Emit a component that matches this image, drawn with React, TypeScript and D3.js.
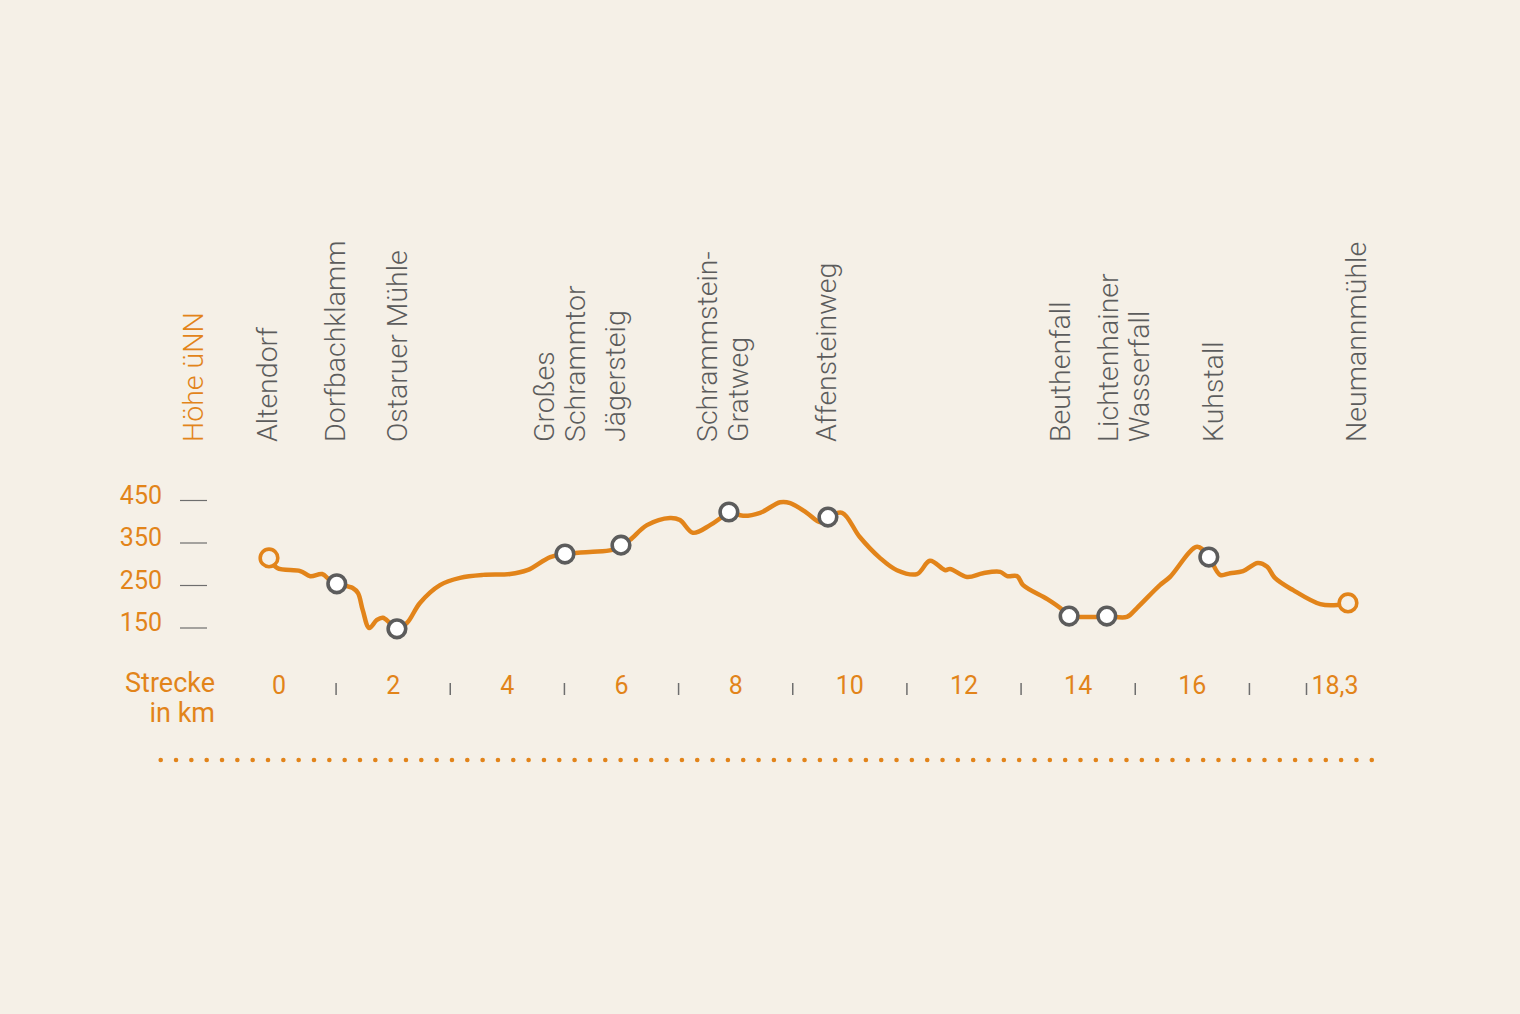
import React from "react";
import * as d3 from "d3";

// ---------- data ----------
const waypointNames: string[][] = [
  ["Altendorf"],
  ["Dorfbachklamm"],
  ["Ostaruer Mühle"],
  ["Großes", "Schrammtor"],
  ["Jägersteig"],
  ["Schrammstein-", "Gratweg"],
  ["Affensteinweg"],
  ["Beuthenfall"],
  ["Lichtenhainer", "Wasserfall"],
  ["Kuhstall"],
  ["Neumannmühle"],
];
const waypointKm = [0, 1.15, 2.17, 5.02, 5.97, 7.8, 9.48, 13.57, 14.21, 15.94, 18.3];
const waypointElev = [315, 254, 148, 324, 345, 423, 411, 178, 178, 317, 209];

const profileKm = [
  0, 0.14, 0.53, 0.7, 0.9, 1.03, 1.15, 1.42, 1.51, 1.59, 1.7, 1.83, 1.93, 2.05, 2.17,
  2.34, 2.56, 2.9, 3.24, 3.63, 4.09, 4.38, 4.77, 5.02, 5.44, 5.82, 5.97, 6.12, 6.41,
  6.8, 6.97, 7.19, 7.48, 7.68, 7.8, 8.04, 8.33, 8.67, 8.84, 9.12, 9.35, 9.48, 9.72,
  10.02, 10.36, 10.65, 10.99, 11.21, 11.47, 11.55, 11.84, 12.11, 12.4, 12.52, 12.69,
  12.79, 13.2, 13.42, 13.57, 13.81, 14.04, 14.21, 14.55, 14.72, 15.11, 15.28, 15.74,
  15.94, 16.13, 16.3, 16.52, 16.77, 16.93, 17.06, 17.37, 17.83, 18.12, 18.3,
];
const profileElev = [
  315, 291, 284, 272, 277, 263, 254, 244, 232, 192, 150, 169, 174, 162, 148,
  162, 209, 251, 268, 275, 277, 286, 317, 324, 329, 334, 345, 357, 392,
  409, 404, 374, 392, 411, 423, 414, 421, 446, 444, 421, 399, 411, 421,
  364, 315, 286, 277, 308, 286, 289, 270, 279, 282, 272, 272,
  251, 218, 197, 178, 176, 176, 178, 176, 197, 251, 270, 341,
  317, 275, 279, 284, 303, 294, 268, 239, 206, 204, 209,
];

const elevTicks = [150, 250, 350, 450];
const kmLabels = [0, 2, 4, 6, 8, 10, 12, 14, 16];
const kmMinorTicks = [1, 3, 5, 7, 9, 11, 13, 15, 17, 18];
const endLabel = "18,3";
const yTitle = "Höhe üNN";
const xTitle = ["Strecke", "in km"];

// ---------- style ----------
const BG = "#f5f0e7";
const ORANGE = "#e2841a";
const GRAY = "#5c5c5c";
const TICKGRAY = "#6e6e6e";
const FONT = "Roboto, 'Open Sans', sans-serif";

// per-label horizontal nudge (layout)
const labelNudge = [8, 8, 10, 20, 4, 19, 8, 1, 42, 14, 18];

export default function App() {
  const W = 1520;
  const H = 1014;

  const x = d3.scaleLinear().domain([0, 18.3]).range([269, 1348]);
  const xAxis = d3.scaleLinear().domain([0, 18]).range([279, 1306.5]);
  const y = d3.scaleLinear().domain([150, 450]).range([628, 500.5]);

  const pts: [number, number][] = profileKm.map((k, i) => [k, profileElev[i]]);
  const line = d3
    .line<[number, number]>()
    .x((d) => x(d[0]))
    .y((d) => y(d[1]))
    .curve(d3.curveCatmullRom.alpha(0.5));

  const dots = d3.range(160.7, 1372, 15.33);

  const labelBottom = 442;
  const lineGap = 30.5;
  const labelSize = 28.5;

  return (
    <svg
      width={W}
      height={H}
      style={{ position: "absolute", left: 0, top: 0, display: "block", background: BG }}
      fontFamily={FONT}
    >
      <rect x={0} y={0} width={W} height={H} fill={BG} />

      {/* y title */}
      <text
        transform={`translate(203,${labelBottom}) rotate(-90)`}
        fill={ORANGE}
        fontSize={labelSize}
        fontWeight={300}
      >
        {yTitle}
      </text>

      {/* waypoint labels */}
      {waypointNames.map((lines, i) => {
        const lastX = x(waypointKm[i]) + labelNudge[i];
        const firstX = lastX - (lines.length - 1) * lineGap;
        return (
          <text
            key={i}
            transform={`translate(${firstX},${labelBottom}) rotate(-90)`}
            fill={GRAY}
            fontSize={labelSize}
            fontWeight={300}
          >
            {lines.map((l, j) => (
              <tspan key={j} x={0} dy={j === 0 ? 0 : lineGap}>
                {l}
              </tspan>
            ))}
          </text>
        );
      })}

      {/* y axis */}
      {elevTicks.map((t) => (
        <g key={t}>
          <line x1={180} x2={207} y1={y(t)} y2={y(t)} stroke={TICKGRAY} strokeWidth={1.2} />
          <text x={162} y={y(t) + 3} textAnchor="end" fill={ORANGE} fontSize={25} fontWeight={400}>
            {t}
          </text>
        </g>
      ))}

      {/* x axis */}
      <text x={215} y={692} textAnchor="end" fill={ORANGE} fontSize={27} fontWeight={400}>
        {xTitle[0]}
      </text>
      <text x={215} y={722} textAnchor="end" fill={ORANGE} fontSize={27} fontWeight={400}>
        {xTitle[1]}
      </text>
      {kmLabels.map((k) => (
        <text key={k} x={xAxis(k)} y={694} textAnchor="middle" fill={ORANGE} fontSize={25} fontWeight={400}>
          {k}
        </text>
      ))}
      {kmMinorTicks.map((k) => (
        <line key={k} x1={xAxis(k)} x2={xAxis(k)} y1={683} y2={695} stroke={TICKGRAY} strokeWidth={1.5} />
      ))}
      <text x={xAxis(18) + 5} y={694} textAnchor="start" fill={ORANGE} fontSize={25} fontWeight={400}>
        {endLabel}
      </text>

      {/* profile */}
      <path d={line(pts) || ""} fill="none" stroke={ORANGE} strokeWidth={4.5} strokeLinejoin="round" strokeLinecap="round" />

      {/* waypoints */}
      {waypointKm.map((k, i) => {
        const isEnd = i === 0 || i === waypointKm.length - 1;
        return (
          <circle
            key={i}
            cx={x(k)}
            cy={y(waypointElev[i])}
            r={8.8}
            fill={isEnd ? BG : "#ffffff"}
            stroke={isEnd ? ORANGE : GRAY}
            strokeWidth={3.6}
          />
        );
      })}

      {/* dotted rule */}
      {dots.map((dx, i) => (
        <circle key={i} cx={dx} cy={760} r={2.3} fill={ORANGE} />
      ))}
    </svg>
  );
}
